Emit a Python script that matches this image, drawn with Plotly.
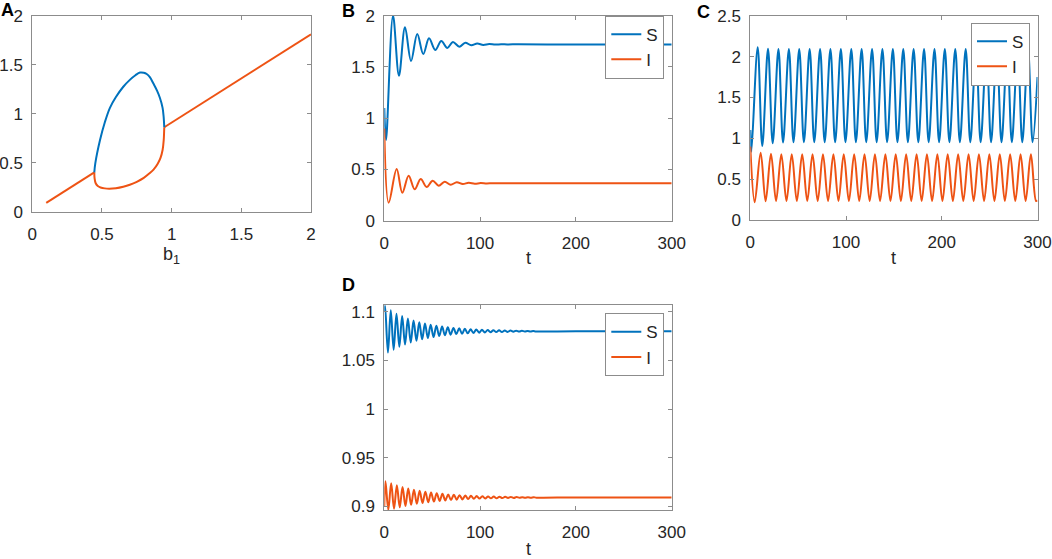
import plotly.graph_objects as go

BLUE = "#0072BD"
ORANGE = "#EE5314"
AXC = "#8c8c8c"
TXT = "#262626"
FONT = "Liberation Sans, Arial, sans-serif"

# ---------------- Panel A (bifurcation diagram) ----------------
A_eq_left_b1 = [0.1, 0.445]
A_eq_left_val = [0.09, 0.402]
A_eq_right_b1 = [0.947, 2.0]
A_eq_right_val = [0.862, 1.81]
A_max_b1 = [0.445, 0.452, 0.486, 0.52, 0.557, 0.6, 0.653, 0.7, 0.74, 0.773,
            0.8, 0.821, 0.845, 0.868, 0.895, 0.916, 0.935, 0.943, 0.947]
A_max_val = [0.402, 0.493, 0.731, 0.91, 1.06, 1.17, 1.275, 1.345, 1.392, 1.42,
             1.418, 1.405, 1.37, 1.31, 1.235, 1.16, 1.06, 0.96, 0.862]
A_min_b1 = [0.445, 0.447, 0.455, 0.47, 0.49, 0.52, 0.553, 0.6, 0.653, 0.7, 0.75,
            0.8, 0.84, 0.87, 0.9, 0.92, 0.935, 0.943, 0.947]
A_min_val = [0.402, 0.34, 0.29, 0.262, 0.247, 0.238, 0.235, 0.24, 0.255, 0.275, 0.305,
             0.345, 0.39, 0.43, 0.49, 0.55, 0.63, 0.73, 0.862]

# ---------------- Panel B (damped oscillation) ----------------
B_S_t = [0, 1.8, 9.1, 15.3, 21.6, 27.9, 34.4, 40.7, 46.7, 53.2, 59.5, 65.8, 71.6, 78.3,
         84.5, 90.8, 97.0, 103.3, 109.5, 115.8, 122.0, 128.3, 140, 170, 220, 300]
B_S_v = [1.1, 0.787, 2.0, 1.415, 1.887, 1.558, 1.821, 1.626, 1.779, 1.665, 1.753, 1.685,
         1.743, 1.698, 1.737, 1.711, 1.729, 1.715, 1.724, 1.718, 1.722, 1.720, 1.721,
         1.720, 1.720, 1.720]
B_I_t = [0, 4.6, 12.9, 18.8, 25.4, 31.7, 38.0, 44.2, 50.5, 56.8, 63.0, 69.3, 75.6, 81.9,
         88.1, 94.4, 100.6, 106.9, 113.1, 125, 150, 200, 300]
B_I_v = [0.9, 0.176, 0.504, 0.273, 0.439, 0.306, 0.407, 0.329, 0.390, 0.341, 0.380, 0.351,
         0.375, 0.358, 0.370, 0.361, 0.367, 0.363, 0.366, 0.365, 0.365, 0.365, 0.365]

# ---------------- Panel C (sustained oscillation) ----------------
C_S_start = (0, 1.1)
C_S_end = (300, 1.75)
C_S_peak_t = [7.7, 18.5, 29.4, 40.3, 51.1, 62.0, 72.9, 83.7, 94.6, 105.5, 116.3, 127.2,
              138.0, 148.9, 159.8, 170.6, 181.5, 192.4, 203.2, 214.1, 225.0, 235.8, 246.7,
              257.5, 268.4, 279.3, 290.1]
C_S_peak_v = [2.113, 2.095, 2.093, 2.093, 2.092, 2.093, 2.092, 2.093, 2.092, 2.093, 2.092,
              2.093, 2.092, 2.093, 2.092, 2.093, 2.092, 2.093, 2.092, 2.093, 2.092, 2.093,
              2.092, 2.093, 2.092, 2.093, 2.092]
C_S_trough_t = [1.1, 12.5, 23.4, 34.2, 45.1, 56.0, 66.8, 77.7, 88.6, 99.4, 110.3, 121.1,
                132.0, 142.9, 153.7, 164.6, 175.5, 186.3, 197.2, 208.0, 218.9, 229.8, 240.6,
                251.5, 262.4, 273.2, 284.1, 294.9]
C_S_trough_v = [0.836, 0.906, 0.94, 0.948, 0.951, 0.952, 0.952, 0.952, 0.952, 0.952, 0.952,
                0.952, 0.952, 0.952, 0.952, 0.952, 0.952, 0.952, 0.952, 0.952, 0.952, 0.952,
                0.952, 0.952, 0.952, 0.952, 0.952, 0.952]
C_I_start = (0, 0.9)
C_I_end = (300, 0.24)
C_I_peak_t = [10.8, 21.6, 32.4, 43.3, 54.2, 65.0, 75.9, 86.8, 97.6, 108.5, 119.3, 130.2,
              141.1, 151.9, 162.8, 173.7, 184.5, 195.4, 206.2, 217.1, 228.0, 238.8, 249.7,
              260.6, 271.4, 282.3, 293.1]
C_I_peak_v = [0.824, 0.81, 0.806, 0.805, 0.805, 0.805, 0.805, 0.805, 0.805, 0.805, 0.805,
              0.805, 0.805, 0.805, 0.805, 0.805, 0.805, 0.805, 0.805, 0.805, 0.805, 0.805,
              0.805, 0.805, 0.805, 0.805, 0.805]
C_I_trough_t = [4.6, 16.0, 26.9, 37.8, 48.6, 59.5, 70.4, 81.2, 92.1, 103.0, 113.8, 124.7,
                135.5, 146.4, 157.3, 168.1, 179.0, 189.9, 200.7, 211.6, 222.5, 233.3, 244.2,
                255.0, 265.9, 276.8, 287.6, 298.5]
C_I_trough_v = [0.218, 0.23, 0.232, 0.232, 0.232, 0.232, 0.232, 0.232, 0.232, 0.232, 0.232,
                0.232, 0.232, 0.232, 0.232, 0.232, 0.232, 0.232, 0.232, 0.232, 0.232, 0.232,
                0.232, 0.232, 0.232, 0.232, 0.232, 0.232]

# ---------------- Panel D (fast damped oscillation) ----------------
D_S_start = (0, 1.1)
D_S_end = [(200, 1.08), (300, 1.08)]
D_S_peak_t = [0.8, 6.75, 12.7, 18.65, 24.6, 30.55, 36.5, 42.45, 48.4, 54.35, 60.3, 66.25,
              72.2, 78.15, 84.1, 90.05, 96.0, 101.95, 107.9, 113.85, 119.8, 125.75, 131.7,
              137.65, 143.6, 149.55, 155.5]
D_S_peak_v = [1.106, 1.1015, 1.098, 1.0955, 1.093, 1.091, 1.0893, 1.0878, 1.0866, 1.0856,
              1.0847, 1.084, 1.0834, 1.0829, 1.0824, 1.082, 1.0817, 1.0814, 1.0812, 1.081,
              1.0809, 1.0807, 1.0806, 1.0805, 1.0804, 1.0803, 1.0802]
D_S_trough_t = [3.8, 9.75, 15.7, 21.65, 27.6, 33.55, 39.5, 45.45, 51.4, 57.35, 63.3, 69.25,
                75.2, 81.15, 87.1, 93.05, 99.0, 104.95, 110.9, 116.85, 122.8, 128.75, 134.7,
                140.65, 146.6, 152.55, 158.5]
D_S_trough_v = [1.058, 1.061, 1.064, 1.0663, 1.0684, 1.0702, 1.0717, 1.073, 1.074, 1.075,
                1.0758, 1.0764, 1.077, 1.0774, 1.0778, 1.0782, 1.0785, 1.0787, 1.0789, 1.0791,
                1.0792, 1.0793, 1.0795, 1.0796, 1.0797, 1.0797, 1.0798]
D_I_start = (0, 0.9)
D_I_end = [(200, 0.9093), (300, 0.9093)]
D_I_peak_t = [1.2, 7.15, 13.1, 19.05, 25.0, 30.95, 36.9, 42.85, 48.8, 54.75, 60.7, 66.65,
              72.6, 78.55, 84.5, 90.45, 96.4, 102.35, 108.3, 114.25, 120.2, 126.15, 132.1,
              138.05, 144.0, 149.95, 155.9]
D_I_peak_v = [0.926, 0.9238, 0.9218, 0.92, 0.9185, 0.9172, 0.9161, 0.9151, 0.9143, 0.9136,
              0.913, 0.9124, 0.912, 0.9116, 0.9113, 0.911, 0.9107, 0.9105, 0.9103, 0.9102,
              0.9101, 0.9099, 0.9098, 0.9097, 0.9096, 0.9096, 0.9095]
D_I_trough_t = [4.2, 10.15, 16.1, 22.05, 28.0, 33.95, 39.9, 45.85, 51.8, 57.75, 63.7, 69.65,
                75.6, 81.55, 87.5, 93.45, 99.4, 105.35, 111.3, 117.25, 123.2, 129.15, 135.1,
                141.05, 147.0, 152.95, 158.9]
D_I_trough_v = [0.8966, 0.8978, 0.8992, 0.9005, 0.9017, 0.9027, 0.9036, 0.9044, 0.9051,
                0.9057, 0.9062, 0.9066, 0.907, 0.9073, 0.9076, 0.9079, 0.9081, 0.9083, 0.9084,
                0.9085, 0.9086, 0.9087, 0.9088, 0.9089, 0.909, 0.909, 0.9091]


def merge(start, pt, pv, tt, tv, end):
    pts = [start] + list(zip(pt, pv)) + list(zip(tt, tv)) + list(end)
    pts.sort(key=lambda p: p[0])
    return [p[0] for p in pts], [p[1] for p in pts]


C_S_t, C_S_v = merge(C_S_start, C_S_peak_t, C_S_peak_v, C_S_trough_t, C_S_trough_v, [C_S_end])
C_I_t, C_I_v = merge(C_I_start, C_I_peak_t, C_I_peak_v, C_I_trough_t, C_I_trough_v, [C_I_end])
D_S_t, D_S_v = merge(D_S_start, D_S_peak_t, D_S_peak_v, D_S_trough_t, D_S_trough_v, D_S_end)
D_I_t, D_I_v = merge(D_I_start, D_I_peak_t, D_I_peak_v, D_I_trough_t, D_I_trough_v, D_I_end)

W, H = 1052, 559
LW = 2.0

fig = go.Figure()


def line(x, y, color, xa, ya, name=None, legend=None, shape="spline"):
    fig.add_trace(go.Scatter(
        x=x, y=y, mode="lines", name=name,
        line=dict(color=color, width=LW, shape=shape, smoothing=1.0),
        xaxis=xa, yaxis=ya, showlegend=name is not None,
        legend=legend if legend else "legend", hoverinfo="skip"))


# A
line(A_eq_left_b1, A_eq_left_val, ORANGE, "x", "y", shape="linear")
line(A_eq_right_b1, A_eq_right_val, ORANGE, "x", "y", shape="linear")
line(A_min_b1, A_min_val, ORANGE, "x", "y")
line(A_max_b1, A_max_val, BLUE, "x", "y")
# B
line(B_S_t, B_S_v, BLUE, "x2", "y2", "S", "legend")
line(B_I_t, B_I_v, ORANGE, "x2", "y2", "I", "legend")
# C
line(C_S_t, C_S_v, BLUE, "x3", "y3", "S", "legend2")
line(C_I_t, C_I_v, ORANGE, "x3", "y3", "I", "legend2")
# D
line(D_S_t, D_S_v, BLUE, "x4", "y4", "S", "legend3")
line(D_I_t, D_I_v, ORANGE, "x4", "y4", "I", "legend3")


def px_x(p):
    return p / W


def px_y(p):
    return 1 - p / H


tickfont = dict(family=FONT, size=17, color=TXT)


def axis(domain, rng, tickvals, ticktext, anchor, is_x):
    d = dict(domain=domain, range=rng, tickvals=tickvals, ticktext=ticktext,
             anchor=anchor, showgrid=False, zeroline=False, showline=True,
             linecolor=AXC, linewidth=1, mirror="ticks", ticks="inside",
             ticklen=4, tickcolor=AXC, tickwidth=1, tickfont=tickfont,
             fixedrange=True, automargin=False, ticklabeloverflow="allow")
    d["ticklabelstandoff"] = 7 if is_x else 5
    return d


A_dx = [px_x(32.3), px_x(311)]
A_dy = [px_y(211.7), px_y(15.7)]
B_dx = [px_x(384.3), px_x(671.7)]
B_dy = [px_y(220.7), px_y(15.7)]
C_dx = [px_x(750.3), px_x(1037.5)]
C_dy = [px_y(220), px_y(15.7)]
D_dx = [px_x(384.3), px_x(671.7)]
D_dy = [px_y(510), px_y(305)]

fig.update_layout(
    width=W, height=H, margin=dict(l=0, r=0, t=0, b=0, autoexpand=False),
    paper_bgcolor="white", plot_bgcolor="white",
    font=dict(family=FONT, color=TXT),
    xaxis=axis(A_dx, [0, 2], [0, 0.5, 1, 1.5, 2], ["0", "0.5", "1", "1.5", "2"], "y", True),
    yaxis=axis(A_dy, [0, 2], [0, 0.5, 1, 1.5, 2], ["0", "0.5", "1", "1.5", "2"], "x", False),
    xaxis2=axis(B_dx, [0, 300], [0, 100, 200, 300], ["0", "100", "200", "300"], "y2", True),
    yaxis2=axis(B_dy, [0, 2], [0, 0.5, 1, 1.5, 2], ["0", "0.5", "1", "1.5", "2"], "x2", False),
    xaxis3=axis(C_dx, [0, 300], [0, 100, 200, 300], ["0", "100", "200", "300"], "y3", True),
    yaxis3=axis(C_dy, [0, 2.5], [0, 0.5, 1, 1.5, 2, 2.5], ["0", "0.5", "1", "1.5", "2", "2.5"], "x3", False),
    xaxis4=axis(D_dx, [0, 300], [0, 100, 200, 300], ["0", "100", "200", "300"], "y4", True),
    yaxis4=axis(D_dy, [0.8964, 1.1069], [0.9, 0.95, 1, 1.05, 1.1], ["0.9", "0.95", "1", "1.05", "1.1"], "x4", False),
)

leg_common = dict(font=dict(family=FONT, size=17, color=TXT), bgcolor="white",
                  bordercolor=AXC, borderwidth=1, xanchor="right", yanchor="top",
                  itemwidth=30, tracegroupgap=0)
fig.update_layout(
    legend=dict(x=px_x(664.3), y=px_y(15.7), **leg_common),
    legend2=dict(x=px_x(1030), y=px_y(22.7), **leg_common),
    legend3=dict(x=px_x(664.3), y=px_y(313.3), **leg_common),
)

ann = []
for txt, x, y in [("A", 0, 10.5), ("B", 340.5, 10.8), ("C", 695.5, 12.3), ("D", 340.5, 285.3)]:
    ann.append(dict(text="<b>%s</b>" % txt, x=px_x(x), y=px_y(y), xref="paper", yref="paper",
                    xanchor="left", yanchor="middle", showarrow=False, borderpad=0,
                    font=dict(family=FONT, size=18, color="black")))
for txt, x, y in [("b<sub>1</sub>", (32.3 + 311) / 2, 255), ("t", (384.3 + 671.7) / 2, 258),
                  ("t", (750.3 + 1037.5) / 2, 258), ("t", (384.3 + 671.7) / 2, 549)]:
    ann.append(dict(text=txt, x=px_x(x), y=px_y(y), xref="paper", yref="paper",
                    xanchor="center", yanchor="middle", showarrow=False,
                    font=dict(family=FONT, size=18, color=TXT)))
fig.update_layout(annotations=ann)

fig.write_html("out.html",
               config={"displayModeBar": False},
               post_script="document.body.style.margin='0px';"
                           "document.body.style.overflow='hidden';")
